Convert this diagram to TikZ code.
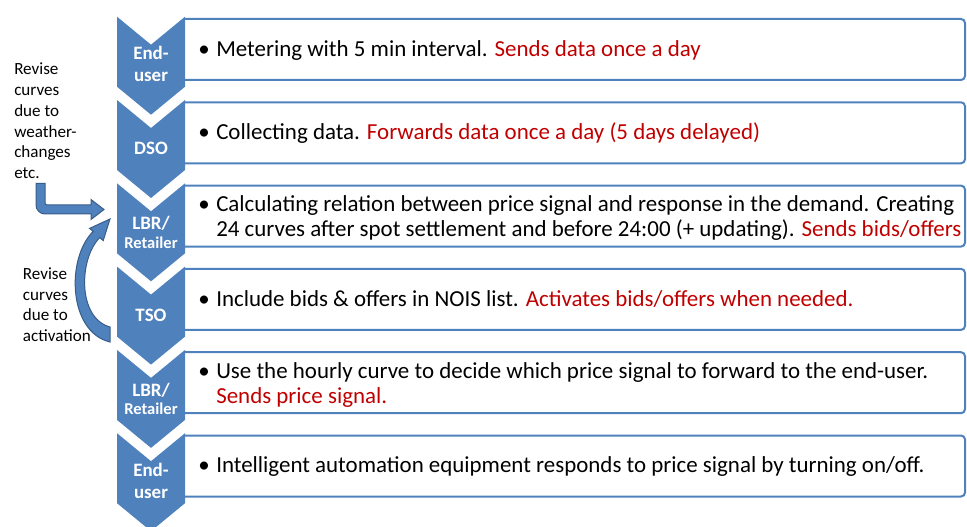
\documentclass[tikz,border=0pt]{standalone}
\usepackage{fontspec}
\setmainfont{Carlito}
\definecolor{cblue}{HTML}{4F81BD}
\definecolor{cred}{HTML}{C00000}
\definecolor{cdark}{HTML}{385D8A}
\tikzset{
  chev/.style={fill=cblue, draw=none},
  rowbox/.style={draw=cblue, line width=1.5pt, rounded corners=3pt},
  ctext/.style={inner sep=0, anchor=base, text=white, font=\fontsize{14.2pt}{16.5pt}\selectfont\bfseries},
  ltext/.style={inner sep=0, anchor=base, text=white, font=\fontsize{14.2pt}{13.7pt}\selectfont\bfseries},
  btext/.style={inner sep=0, anchor=base west, font=\fontsize{17.2pt}{19.1pt}\selectfont},
  bul/.style={inner sep=0, anchor=base, font=\fontsize{17.2pt}{19.1pt}\selectfont},
  note/.style={inner sep=0, anchor=base west, font=\fontsize{12.8pt}{15.55pt}\selectfont},
  barrow/.style={fill=cblue, draw=cdark, line width=0.75pt},
}
\newcommand\rt[1]{\textcolor{cred}{#1}}
\begin{document}
\begin{tikzpicture}[x=0.75pt,y=-0.75pt]
\useasboundingbox (0,0) rectangle (967,527);
% boxes and chevrons
\foreach \t in {16.7,100,183.3,266.6,349.9,433.2}{
  \draw[rowbox] (185,\t+2.3) -- (965,\t+2.3) -- (965,\t+63.3) -- (185,\t+63.3);
  \fill[chev] (117,\t) -- (151,\t+28) -- (185,\t) -- (185,\t+70) -- (151,\t+98) -- (117,\t+70) -- cycle;
}
% chevron labels
\node[ctext] (c1) at (151,16.7+43) {\parbox[t]{60pt}{\centering End-\\user}};
\node[ctext] (c2) at (151,100+55) {DSO};
\node[ltext] (c3) at (151,183.3+46.7) {\parbox[t]{60pt}{\centering LBR/\\{\fontsize{12.4pt}{13.7pt}\selectfont Retailer}}};
\node[ctext] (c4) at (151,266.6+55) {TSO};
\node[ltext] (c5) at (151,349.9+46.7) {\parbox[t]{60pt}{\centering LBR/\\{\fontsize{12.4pt}{13.7pt}\selectfont Retailer}}};
\node[ctext] (c6) at (151,433.2+43) {\parbox[t]{60pt}{\centering End-\\user}};
% bullets
\foreach \y [count=\i] in {56.2,139.5,211.5,306.1,378.4,472.7}{
  \node[bul] (b\i) at (204,\y) {\textbullet};
}
% row texts
\node[btext] (r1) at (216,56.2) {Metering with 5 min interval. \rt{Sends data once a day}};
\node[btext] (r2) at (216,139.5) {Collecting data. \rt{Forwards data once a day (5 days delayed)}};
\node[btext] (r3) at (216,211.5) {\parbox[t]{600pt}{Calculating relation between price signal and response in the demand. Creating\\24 curves after spot settlement and before 24:00 (+ updating). \rt{Sends bids/offers}}};
\node[btext] (r4) at (216,306.1) {Include bids \& offers in NOIS list. \rt{Activates bids/offers when needed.}};
\node[btext] (r5) at (216,378.4) {\parbox[t]{600pt}{Use the hourly curve to decide which price signal to forward to the end-user.\\\rt{Sends price signal.}}};
\node[btext] (r6) at (216,472.7) {Intelligent automation equipment responds to price signal by turning on/off.};
% notes
\node[note] (n1) at (14,75) {\parbox[t]{80pt}{Revise\\curves\\due to\\weather-\\changes\\etc.}};
\node[note] (n2) at (22.7,279.3) {\parbox[t]{80pt}{Revise\\curves\\due to\\activation}};
% bent arrow
\draw[barrow] (36,183.5) -- (36,205) .. controls (36,210) and (40,214) .. (45,214) -- (91,214) -- (91,219.5) -- (104,209.5) -- (91,199.5) -- (91,205) -- (47,205) .. controls (46,205) and (45,204) .. (45,203) -- (45,183.5) -- cycle;
% curved arrow
\draw[barrow] (110,342) .. controls (68,332) and (66,258) .. (93.2,231.4) -- (89.6,228.4) -- (110,219) -- (103.2,240.6) -- (99.8,237.6) .. controls (79,258) and (77,318) .. (110,327) -- cycle;
\end{tikzpicture}
\end{document}
